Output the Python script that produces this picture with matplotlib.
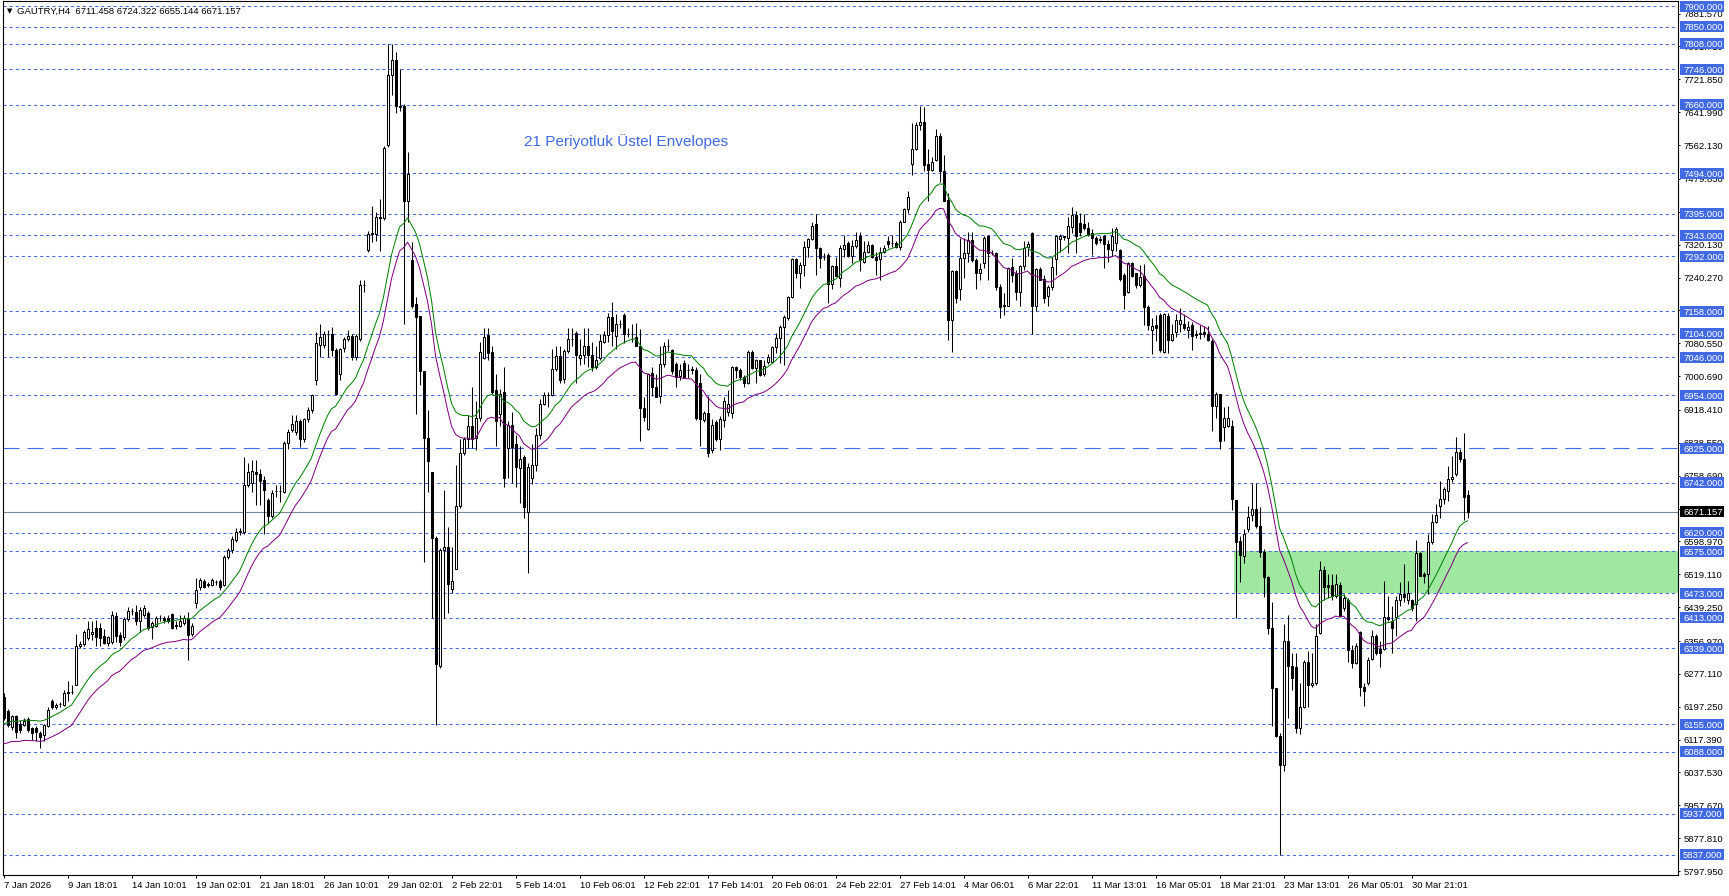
import matplotlib
matplotlib.use('Agg')
import matplotlib.pyplot as plt
from matplotlib.patches import Rectangle
import numpy as np
import pandas as pd

plt.rcParams['lines.scale_dashes'] = False

SYMBOL = 'GAUTRY,H4'

# H4 candles (bar 0 = 7 Jan 2026)
opens = [
    6222, 6188, 6148, 6174, 6156, 6154, 6167, 6145, 6145, 6133,
    6129, 6151, 6212, 6196, 6203, 6202, 6230, 6232, 6250, 6346,
    6350, 6364, 6374, 6388, 6388, 6370, 6352, 6355, 6417, 6372,
    6366, 6410, 6430, 6428, 6405, 6420, 6425, 6392, 6394, 6413,
    6412, 6413, 6422, 6394, 6394, 6400, 6411, 6374, 6450, 6489,
    6503, 6495, 6494, 6500, 6503, 6494, 6561, 6578, 6603, 6623,
    6623, 6736, 6740, 6768, 6762, 6748, 6700, 6661, 6721, 6721,
    6720, 6838, 6870, 6866, 6891, 6847, 6896, 6918, 6991, 7077,
    7077, 7102, 7102, 7065, 7007, 7069, 7091, 7099, 7047, 7091,
    7222, 7306, 7346, 7346, 7387, 7386, 7563, 7733, 7768, 7656,
    7658, 7425, 7282, 7177, 7146, 7012, 6850, 6767, 6608, 6297,
    6578, 6586, 6484, 6533, 6685, 6814, 6847, 6880, 6850, 6899,
    7045, 7100, 7060, 6966, 6908, 6962, 6825, 6883, 6836, 6778,
    6803, 6671, 6754, 6784, 6858, 6932, 6954, 6954, 7018, 7049,
    6993, 7062, 7090, 7106, 7045, 7051, 7073, 7053, 7023, 7045,
    7084, 7100, 7144, 7097, 7127, 7148, 7103, 7104, 7095, 7073,
    6924, 6872, 7009, 6974, 6952, 7029, 7073, 7064, 7029, 7000,
    7033, 7016, 7016, 7016, 6985, 6895, 6910, 6820, 6888, 6847,
    6895, 6913, 6911, 7022, 7016, 6998, 6983, 7060, 7020, 7040,
    7006, 7036, 7034, 7071, 7093, 7119, 7141, 7194, 7285, 7251,
    7271, 7314, 7333, 7370, 7311, 7291, 7295, 7225, 7268, 7239,
    7309, 7323, 7293, 7317, 7340, 7279, 7303, 7319, 7291, 7285,
    7303, 7330, 7324, 7325, 7315, 7374, 7406, 7516, 7552, 7611,
    7617, 7516, 7502, 7526, 7584, 7498, 7429, 7137, 7255, 7212,
    7287, 7299, 7332, 7283, 7251, 7275, 7341, 7301, 7301, 7218,
    7170, 7171, 7265, 7251, 7206, 7268, 7314, 7349, 7170, 7260,
    7236, 7196, 7217, 7285, 7333, 7340, 7336, 7364, 7392, 7372,
    7370, 7360, 7349, 7336, 7332, 7341, 7322, 7307, 7325, 7307,
    7247, 7206, 7275, 7250, 7223, 7244, 7169, 7112, 7126, 7148,
    7060, 7146, 7088, 7109, 7127, 7128, 7112, 7125, 7102, 7105,
    7109, 7102, 7086, 6928, 6956, 6878, 6880, 6880, 6699, 6599,
    6564, 6628, 6662, 6678, 6637, 6574, 6512, 6389, 6243, 6127,
    6056, 6358, 6296, 6294, 6145, 6197, 6306, 6249, 6254, 6377,
    6530, 6493, 6493, 6466, 6493, 6436, 6457, 6335, 6304, 6379,
    6246, 6254, 6314, 6368, 6337, 6337, 6415, 6405, 6415, 6457,
    6472, 6457, 6457, 6446, 6571, 6519, 6519, 6597, 6647, 6686,
    6701, 6722, 6751, 6763, 6817, 6800, 6711.458,
]
highs = [
    6230, 6192, 6178, 6178, 6166, 6170, 6172, 6149, 6150, 6138,
    6156, 6196, 6216, 6206, 6208, 6237, 6260, 6250, 6375, 6356,
    6384, 6405, 6405, 6409, 6400, 6385, 6370, 6430, 6428, 6378,
    6415, 6440, 6437, 6445, 6440, 6445, 6430, 6405, 6418, 6419,
    6418, 6420, 6426, 6405, 6419, 6420, 6428, 6400, 6511, 6511,
    6508, 6500, 6509, 6506, 6507, 6566, 6583, 6612, 6631, 6632,
    6803, 6790, 6796, 6796, 6776, 6757, 6705, 6724, 6737, 6737,
    6842, 6872, 6907, 6907, 6896, 6900, 6925, 6958, 7108, 7127,
    7110, 7113, 7119, 7070, 7070, 7095, 7113, 7103, 7103, 7233,
    7233, 7354, 7414, 7400, 7430, 7560, 7808, 7808, 7788, 7746,
    7662, 7546, 7326, 7194, 7147, 7012, 6919, 6767, 6612, 6583,
    6723, 6633, 6586, 6785, 6847, 6852, 6907, 6973, 6940, 7084,
    7117, 7117, 7073, 7007, 6969, 7022, 6891, 6914, 6858, 6830,
    6808, 6790, 6835, 6875, 6946, 6963, 6963, 7067, 7073, 7073,
    7067, 7117, 7117, 7111, 7090, 7117, 7117, 7084, 7073, 7104,
    7110, 7155, 7180, 7152, 7138, 7155, 7117, 7128, 7130, 7115,
    6951, 7009, 7023, 7007, 7073, 7084, 7090, 7067, 7034, 7029,
    7040, 7029, 7025, 7023, 7007, 6916, 6952, 6896, 6895, 6903,
    6950, 6968, 7026, 7026, 7020, 7004, 7064, 7064, 7042, 7040,
    7040, 7055, 7073, 7105, 7125, 7149, 7196, 7287, 7287, 7279,
    7328, 7336, 7376, 7395, 7315, 7299, 7299, 7271, 7291, 7319,
    7344, 7328, 7332, 7352, 7352, 7328, 7328, 7322, 7303, 7315,
    7319, 7341, 7344, 7330, 7379, 7409, 7451, 7615, 7617, 7657,
    7654, 7552, 7534, 7600, 7592, 7538, 7445, 7259, 7259, 7336,
    7336, 7352, 7352, 7287, 7275, 7340, 7344, 7306, 7303, 7225,
    7202, 7267, 7287, 7259, 7271, 7328, 7328, 7352, 7263, 7267,
    7247, 7222, 7291, 7344, 7346, 7341, 7388, 7411, 7403, 7396,
    7395, 7376, 7358, 7340, 7340, 7344, 7331, 7360, 7362, 7310,
    7252, 7278, 7278, 7252, 7271, 7273, 7174, 7143, 7148, 7153,
    7154, 7154, 7127, 7151, 7165, 7151, 7135, 7133, 7112, 7125,
    7122, 7122, 7091, 6961, 6956, 6925, 6928, 6894, 6699, 6612,
    6628, 6685, 6740, 6740, 6683, 6581, 6514, 6451, 6243, 6134,
    6399, 6420, 6327, 6327, 6254, 6311, 6332, 6327, 6399, 6551,
    6540, 6519, 6519, 6519, 6501, 6470, 6462, 6348, 6353, 6381,
    6254, 6317, 6384, 6374, 6358, 6503, 6467, 6441, 6467, 6501,
    6545, 6503, 6460, 6602, 6574, 6524, 6618, 6665, 6691, 6747,
    6730, 6782, 6807, 6852, 6823, 6862, 6724.322,
]
lows = [
    6166, 6148, 6140, 6121, 6134, 6150, 6137, 6117, 6115, 6097,
    6113, 6148, 6191, 6191, 6196, 6200, 6210, 6228, 6250, 6340,
    6344, 6360, 6360, 6344, 6345, 6350, 6345, 6350, 6355, 6344,
    6360, 6405, 6420, 6396, 6380, 6415, 6383, 6361, 6390, 6405,
    6400, 6400, 6385, 6385, 6390, 6395, 6311, 6370, 6437, 6481,
    6485, 6488, 6490, 6494, 6481, 6490, 6556, 6572, 6598, 6615,
    6617, 6730, 6720, 6688, 6688, 6617, 6643, 6655, 6706, 6695,
    6716, 6824, 6865, 6857, 6829, 6840, 6890, 6912, 6979, 7047,
    7070, 7047, 7049, 6954, 6990, 7060, 7085, 7040, 7040, 7085,
    7206, 7303, 7326, 7330, 7304, 7380, 7558, 7684, 7640, 7645,
    7128, 7375, 7167, 6908, 6979, 6550, 6720, 6412, 6154, 6292,
    6412, 6424, 6473, 6531, 6680, 6808, 6825, 6825, 6821, 6891,
    7042, 7040, 6958, 6832, 6880, 6731, 6753, 6742, 6731, 6693,
    6657, 6522, 6738, 6770, 6848, 6930, 6926, 6952, 7012, 6985,
    6985, 7058, 7073, 6985, 7027, 7029, 7023, 7012, 7018, 7040,
    7080, 7084, 7073, 7067, 7117, 7080, 7095, 7084, 7073, 6844,
    6891, 6869, 6952, 6950, 6935, 7023, 7062, 7007, 6974, 6991,
    6996, 6996, 7005, 6895, 6830, 6890, 6803, 6814, 6844, 6820,
    6876, 6904, 6899, 6996, 6990, 6974, 6982, 7017, 6983, 7000,
    7000, 7030, 7032, 7056, 7032, 7028, 7136, 7190, 7239, 7214,
    7243, 7291, 7332, 7247, 7263, 7283, 7178, 7212, 7243, 7218,
    7291, 7291, 7275, 7311, 7255, 7275, 7299, 7287, 7247, 7234,
    7299, 7311, 7315, 7311, 7307, 7374, 7396, 7490, 7549, 7599,
    7498, 7427, 7500, 7524, 7473, 7425, 7089, 7060, 7178, 7186,
    7239, 7279, 7279, 7212, 7234, 7263, 7234, 7295, 7210, 7141,
    7149, 7170, 7230, 7186, 7171, 7259, 7293, 7103, 7158, 7233,
    7178, 7170, 7210, 7247, 7303, 7332, 7299, 7349, 7299, 7340,
    7356, 7340, 7295, 7319, 7325, 7263, 7279, 7293, 7304, 7232,
    7164, 7203, 7242, 7214, 7216, 7125, 7113, 7054, 7086, 7060,
    7057, 7057, 7086, 7096, 7109, 7112, 7094, 7065, 7094, 7091,
    7096, 7086, 6868, 6899, 6824, 6842, 6878, 6675, 6412, 6501,
    6546, 6622, 6649, 6631, 6561, 6463, 6373, 6150, 6124, 5838,
    6040, 6170, 6238, 6134, 6130, 6194, 6197, 6246, 6249, 6374,
    6457, 6462, 6457, 6462, 6415, 6431, 6306, 6291, 6301, 6223,
    6200, 6249, 6311, 6324, 6293, 6335, 6405, 6327, 6368, 6441,
    6452, 6446, 6431, 6405, 6514, 6498, 6472, 6592, 6644, 6656,
    6691, 6696, 6743, 6758, 6793, 6651, 6655.144,
]
closes = [
    6170, 6154, 6174, 6137, 6140, 6162, 6141, 6133, 6137, 6124,
    6153, 6190, 6196, 6202, 6205, 6230, 6232, 6233, 6345, 6350,
    6378, 6386, 6378, 6366, 6364, 6352, 6366, 6419, 6370, 6355,
    6410, 6430, 6431, 6405, 6433, 6437, 6389, 6400, 6413, 6414,
    6407, 6405, 6389, 6395, 6405, 6413, 6372, 6394, 6481, 6505,
    6489, 6492, 6505, 6501, 6489, 6561, 6578, 6606, 6623, 6624,
    6736, 6768, 6770, 6762, 6745, 6723, 6661, 6717, 6722, 6722,
    6838, 6866, 6885, 6891, 6847, 6896, 6918, 6954, 7080, 7096,
    7102, 7103, 7063, 6957, 7066, 7091, 7099, 7047, 7097, 7222,
    7221, 7346, 7348, 7387, 7386, 7555, 7733, 7768, 7656, 7655,
    7425, 7491, 7172, 7144, 7012, 6850, 6795, 6608, 6302, 6578,
    6586, 6495, 6503, 6685, 6814, 6849, 6880, 6847, 6899, 7060,
    7095, 7056, 6963, 6891, 6958, 6753, 6883, 6828, 6781, 6800,
    6682, 6781, 6784, 6858, 6932, 6954, 6955, 7018, 7049, 6990,
    7062, 7092, 7091, 7051, 7051, 7073, 7053, 7023, 7040, 7086,
    7100, 7144, 7111, 7127, 7128, 7104, 7104, 7103, 7073, 6924,
    6902, 7007, 6974, 6950, 7029, 7073, 7074, 7012, 6998, 7016,
    6998, 7015, 7017, 6899, 6897, 6910, 6814, 6883, 6847, 6897,
    6939, 6932, 7022, 7016, 6998, 6983, 7060, 7020, 7040, 7004,
    7026, 7048, 7071, 7093, 7119, 7145, 7192, 7285, 7252, 7271,
    7315, 7333, 7366, 7311, 7287, 7291, 7225, 7268, 7244, 7311,
    7319, 7293, 7317, 7332, 7283, 7303, 7319, 7289, 7283, 7303,
    7311, 7322, 7323, 7315, 7374, 7406, 7437, 7552, 7611, 7617,
    7514, 7502, 7522, 7584, 7498, 7427, 7137, 7255, 7190, 7287,
    7301, 7332, 7283, 7251, 7260, 7336, 7301, 7300, 7217, 7168,
    7174, 7263, 7247, 7206, 7268, 7311, 7322, 7171, 7260, 7234,
    7190, 7217, 7265, 7340, 7341, 7339, 7366, 7392, 7341, 7352,
    7360, 7344, 7336, 7325, 7333, 7322, 7309, 7340, 7359, 7237,
    7198, 7275, 7244, 7223, 7242, 7169, 7126, 7122, 7118, 7063,
    7151, 7088, 7102, 7138, 7137, 7117, 7119, 7099, 7101, 7104,
    7102, 7088, 6928, 6956, 6842, 6899, 6899, 6701, 6597, 6566,
    6616, 6659, 6678, 6637, 6574, 6512, 6389, 6243, 6127, 6056,
    6358, 6296, 6266, 6145, 6197, 6306, 6249, 6254, 6370, 6530,
    6488, 6488, 6467, 6495, 6418, 6462, 6335, 6304, 6346, 6246,
    6236, 6311, 6368, 6327, 6329, 6415, 6410, 6389, 6457, 6472,
    6464, 6474, 6436, 6571, 6516, 6514, 6597, 6647, 6663, 6703,
    6727, 6751, 6755, 6817, 6800, 6706, 6671.157,
]

# 21 period exponential envelopes
EMA_PERIOD = 21
EMA_START = 6128
ENV_DEV = 0.004

# horizontal levels drawn on the chart
levels = [7900, 7850, 7808, 7746, 7660, 7494, 7395, 7343, 7292, 7158, 7104,
          7046, 6954, 6742, 6620, 6575, 6473, 6413, 6339, 6155, 6088, 5937, 5837]
key_level = 6825
zone_top = 6575
zone_bottom = 6473
zone_start = 307.5

# price scale ticks
price_ticks = [7881.570, 7801.710, 7721.850, 7641.990, 7562.130, 7479.830,
               7399.990, 7320.130, 7240.270, 7160.410, 7080.550, 7000.690,
               6918.410, 6838.550, 6758.690, 6678.830, 6598.970, 6519.110,
               6439.250, 6356.970, 6277.110, 6197.250, 6117.390, 6037.530,
               5957.670, 5877.810, 5797.950]

# time scale: one label every 16 bars
date_labels = ['7 Jan 2026', '9 Jan 18:01', '14 Jan 10:01', '19 Jan 02:01',
               '21 Jan 18:01', '26 Jan 10:01', '29 Jan 02:01', '2 Feb 22:01',
               '5 Feb 14:01', '10 Feb 06:01', '12 Feb 22:01', '17 Feb 14:01',
               '20 Feb 06:01', '24 Feb 22:01', '27 Feb 14:01', '4 Mar 06:01',
               '6 Mar 22:01', '11 Mar 13:01', '16 Mar 05:01', '18 Mar 21:01',
               '23 Mar 13:01', '26 Mar 05:01', '30 Mar 21:01']
date_step = 16

BLUE = '#4169E1'
FONT = ['Liberation Sans', 'DejaVu Sans']
plt.rcParams['font.family'] = FONT

o = np.array(opens, dtype=float)
h = np.array(highs, dtype=float)
l = np.array(lows, dtype=float)
c = np.array(closes, dtype=float)
x = np.arange(len(c))

ema = pd.Series([EMA_START] + closes).ewm(span=EMA_PERIOD, adjust=False).mean().to_numpy()[1:]

W, H = 1729, 896
fig = plt.figure(figsize=(W / 100, H / 100), dpi=100)
ax_l, ax_r, ax_t, ax_b = 2.5, 1677.5, 1.0, 875.0
ax = fig.add_axes([ax_l / W, (H - ax_b) / H, (ax_r - ax_l) / W, (ax_b - ax_t) / H])
ax.set_xlim(-0.25, 418.5)
ax.set_ylim(5788.4, 7912.15)

# zone rectangle (background)
ax.add_patch(Rectangle((zone_start, zone_bottom), 500, zone_top - zone_bottom,
                       facecolor='#A0E8A0', edgecolor='none', zorder=0.5))

# levels
for lv in levels:
    ax.axhline(lv, color=BLUE, lw=0.75, ls=(0, (2.2, 2.2)), zorder=1)
ax.axhline(key_level, color=BLUE, lw=0.8, ls=(0, (11.5, 5.8)), zorder=1)
ax.axhline(c[-1], color='#778899', lw=0.8, zorder=1)

# candles
up = c >= o
body_lo = np.minimum(o, c)
body_h = np.abs(c - o)
ax.vlines(x, l, h, color='black', lw=0.75, zorder=3)
ax.bar(x[up], body_h[up], 0.5, bottom=body_lo[up], color='white',
       edgecolor='black', lw=0.75, zorder=4)
ax.bar(x[~up], body_h[~up], 0.5, bottom=body_lo[~up], color='black',
       edgecolor='black', lw=0.75, zorder=4)

# envelopes
ax.plot(x, ema * (1 + ENV_DEV), color='green', lw=0.72, zorder=5)
ax.plot(x, ema * (1 - ENV_DEV), color='#800080', lw=0.72, zorder=5)

ax.text(130.2, 7560, '21 Periyotluk Üstel Envelopes', color=BLUE,
        fontsize=11.1, va='baseline', ha='left', zorder=6)

# axes look
for s in ax.spines.values():
    s.set_color('black')
    s.set_linewidth(0.8)
ax.yaxis.tick_right()
ax.set_yticks(price_ticks, [f'{v:.3f}' for v in price_ticks])
ax.tick_params(axis='y', length=1.5, pad=3, labelsize=6.8, width=0.7)
ax.set_xticks(x[::date_step][:len(date_labels)], date_labels)
ax.tick_params(axis='x', length=2.5, pad=1.5, labelsize=6.8, width=0.7)
for t in ax.get_xticklabels():
    t.set_ha('left')

# level labels on the price scale
ax_w = ax_r - ax_l
px_per_unit = (ax_b - ax_t) / (7912.15 - 5788.4)
box_h = 11 / px_per_unit
box_x = 1 + 2.5 / ax_w
box_w = 44 / ax_w
ytr = ax.get_yaxis_transform()
for lv, fc in [(v, BLUE) for v in levels + [key_level]] + [(c[-1], 'black')]:
    ax.add_patch(Rectangle((box_x, lv - box_h / 2), box_w, box_h, transform=ytr,
                           facecolor=fc, edgecolor='none', clip_on=False, zorder=7))
    ax.text(box_x + 3 / ax_w, lv - 3.5 / px_per_unit, f'{lv:.3f}', transform=ytr,
            color='white', fontsize=6.8, ha='left', va='baseline', clip_on=False, zorder=8)

# header
fig.text(7 / W, 1 - 13.5 / H, '\u25BC', fontsize=5, va='baseline', family=['DejaVu Sans'])
fig.text(17 / W, 1 - 14 / H,
         f'{SYMBOL}  {o[-1]:.3f} {h[-1]:.3f} {l[-1]:.3f} {c[-1]:.3f}',
         fontsize=6.8, va='baseline')

fig.savefig('out.png', dpi=100, facecolor='white')
